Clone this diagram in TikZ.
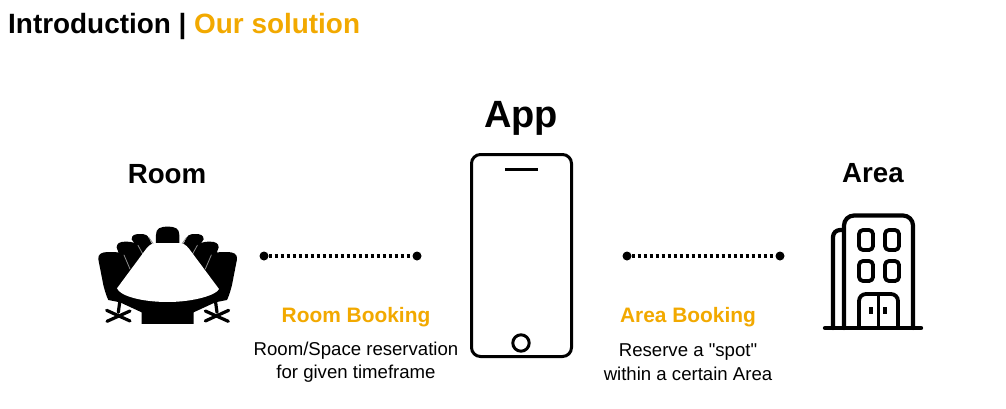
\documentclass[tikz,border=0pt]{standalone}
\usepackage{fontspec}
\setmainfont{Liberation Sans}
\newfontfamily\straightq{Liberation Sans}
\definecolor{accent}{HTML}{F2A900}
\tikzset{
  px/.style={x=1pt,y=-1pt},
  line/.style={draw=black,line width=3pt,line join=round,line cap=round},
  thinline/.style={draw=black,line join=round,line cap=round},
  head/.style={inner sep=0pt,anchor=center,font=\bfseries\fontsize{27.7}{30}\selectfont},
  subhead/.style={inner sep=0pt,anchor=center,font=\bfseries\fontsize{20.9}{24}\selectfont,text=accent},
  body/.style={inner sep=0pt,anchor=center,align=center,font=\fontsize{18.6}{23.5}\selectfont},
  endpt/.style={circle,fill=black,inner sep=0pt,minimum size=9pt},
  link/.style={draw=black,line width=3.2pt,dash pattern=on 3pt off 3pt},
  chair/.style={fill=black,line join=round},
  seam/.style={draw=black!45,line width=.8pt,line cap=round},
  caster/.style={black,line width=3.2pt,line cap=round}
}
\begin{document}
\begin{tikzpicture}[px]
\useasboundingbox (0,0) rectangle (1006,408);
\fill[white] (0,0) rectangle (1006,408);
% title
\node[inner sep=0pt,anchor=base west,font=\bfseries\fontsize{27.9}{30}\selectfont] (title) at (8,33) {Introduction | \textcolor{accent}{Our solution}};
% headings
\node[head] (room) at (167,174.5) {Room};
\node[head,font=\bfseries\fontsize{38}{42}\selectfont] (app) at (521,118) {App};
\node[head] (area) at (873,173) {Area};
% connectors
\node[endpt] (r1) at (264,256) {};
\node[endpt] (r2) at (417,256) {};
\node[endpt] (a1) at (627,256) {};
\node[endpt] (a2) at (780,256) {};
\draw[link] (r1) -- (r2);
\draw[link] (a1) -- (a2);
% labels
\node[subhead] (rb) at (356,317) {Room Booking};
\node[body] (rt) at (356,362) {Room/Space reservation\\for given timeframe};
\node[subhead] (ab) at (688,317) {Area Booking};
\node[body] (at) at (688,362) {Reserve a {\straightq "}spot{\straightq "}\\within a certain Area};
% phone
\draw[line,rounded corners=9pt] (471.5,154.5) rectangle (571.5,356.5);
\draw[line,line cap=butt] (505,169) -- (538,169);
\draw[line] (521,343) circle (8.2pt);
% building
\draw[thinline,line width=4.2pt,rounded corners=10pt] (844,328) -- (844,215.5) -- (913,215.5) -- (913,328);
\draw[thinline,line width=4.2pt,rounded corners=7pt] (833,328) -- (833,230) -- (843,230);
\draw[thinline,line width=4.4pt] (825,328) -- (921,328);
\foreach \x in {859,885}{
  \foreach \y in {230,261}{
    \draw[thinline,line width=3.8pt,rounded corners=4pt] (\x,\y) rectangle (\x+14,\y+20);
  }
}
\draw[thinline,line width=3.8pt,rounded corners=7pt] (859,328) -- (859,294) -- (898,294) -- (898,328);
\draw[thinline,line width=2.2pt,line cap=butt] (878.5,294) -- (878.5,328);
\draw[draw=black,line width=3.4pt] (871,307) -- (871,314);
\draw[draw=black,line width=3.4pt] (885,307) -- (885,314);
% conference table
\begin{scope}[shift={(80,200)},x=0.3333pt,y=-0.3333pt]
\foreach \m/\o in {1/0,-1/526}{
\begin{scope}[shift={(\o,0)},xscale=\m]
  % caster
  \draw[caster] (120,300) -- (115,337);
  \draw[caster] (80,331) -- (150,363);
  \draw[caster] (81,364) -- (150,333);
  % chairs, back to front
  \fill[chair] (155,118) .. controls (155,105) and (165,102) .. (180,102) .. controls (198,102) and (205,105) .. (212,125) -- (228,150) -- (190,170) -- cycle;
  \draw[seam] (206,112) -- (226,140);
  \fill[chair] (110,142) .. controls (110,130) and (120,125) .. (135,125) .. controls (160,125) and (170,128) .. (178,145) -- (192,165) -- (160,220) -- (130,200) -- cycle;
  \draw[seam] (174,136) -- (190,165);
  \fill[chair] (55,178) .. controls (53,162) and (65,156) .. (85,156) .. controls (120,156) and (130,158) .. (136,172) -- (152,212) -- (112,265) -- (125,300) -- (85,300) .. controls (80,290) and (75,275) .. (70,255) -- cycle;
  \draw[seam] (132,165) -- (150,207);
\end{scope}
}
% far chair
\fill[chair] (228,135) -- (228,105) .. controls (228,85) and (240,80) .. (263,80) .. controls (286,80) and (298,85) .. (298,105) -- (298,135) -- cycle;
% under-table band and base
\fill[black] (85,300) -- (120,307) -- (185,337) -- (185,372) -- (341,372) -- (341,337) -- (406,307) -- (441,300) -- (420,250) -- (106,250) -- cycle;
% tabletop
\fill[white] (111,265) -- (199,146) .. controls (209,133) and (218,129) .. (232,129) -- (294,129) .. controls (308,129) and (317,133) .. (327,146) -- (417,267) .. controls (410,285) and (340,306) .. (263,306) .. controls (186,306) and (120,288) .. (111,265) -- cycle;
\end{scope}
\end{tikzpicture}
\end{document}
